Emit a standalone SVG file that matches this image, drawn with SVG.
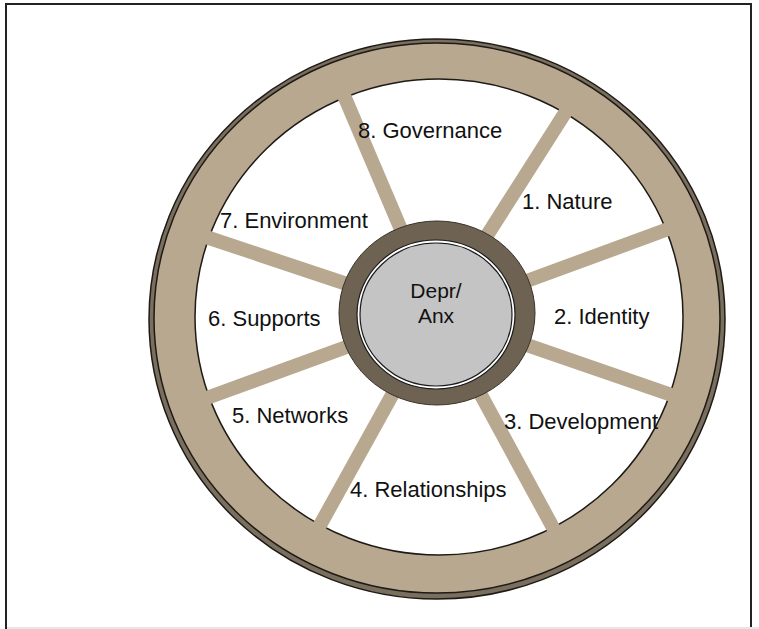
<svg xmlns="http://www.w3.org/2000/svg" width="759" height="629" viewBox="0 0 759 629">
<style>
.lbl{font-family:"Liberation Sans",Arial,sans-serif;font-size:22px;fill:#111}
.hub{font-family:"Liberation Sans",Arial,sans-serif;font-size:21px;fill:#111;text-anchor:middle}
.spoke{stroke:#b8a890;stroke-width:14;stroke-linecap:butt}
</style>
<rect x="0" y="0" width="759" height="629" fill="#fff"/>
<rect x="6" y="4" width="745" height="660" fill="none" stroke="#222" stroke-width="2"/>
<line x1="7" y1="628" x2="759" y2="628" stroke="#e6e6e6" stroke-width="2"/>
<g id="wheel">
  <ellipse cx="437" cy="319" rx="288" ry="280" fill="#7a6f5e" stroke="#1e1a15" stroke-width="1.5"/>
  <ellipse cx="437" cy="318" rx="283" ry="275" fill="#b8a890" stroke="#1e1a15" stroke-width="1.5"/>
  <ellipse cx="439" cy="317" rx="244" ry="238" fill="#fff" stroke="#1e1a15" stroke-width="1.5"/>
</g>
<g id="connectors">
  <line class="spoke" x1="437" y1="314" x2="579" y2="91"/>
  <line class="spoke" x1="437" y1="314" x2="690" y2="221"/>
  <line class="spoke" x1="437" y1="314" x2="692" y2="402"/>
  <line class="spoke" x1="437" y1="314" x2="563" y2="546"/>
  <line class="spoke" x1="437" y1="314" x2="309" y2="545"/>
  <line class="spoke" x1="437" y1="314" x2="182" y2="407"/>
  <line class="spoke" x1="437" y1="314" x2="179" y2="228"/>
  <line class="spoke" x1="437" y1="314" x2="334" y2="72"/>
</g>
<g id="hub">
  <ellipse cx="437" cy="313" rx="98" ry="92" fill="#6e6352" stroke="#3a3228" stroke-width="1"/>
  <ellipse cx="436" cy="314.5" rx="79" ry="74.5" fill="#fff" stroke="#1a1a1a" stroke-width="1.2"/>
  <ellipse cx="436" cy="314.5" rx="76" ry="71.5" fill="#c4c4c4" stroke="#1a1a1a" stroke-width="1.2"/>
  <text class="hub" x="436" y="298">Depr/</text>
  <text class="hub" x="436" y="323">Anx</text>
</g>
<g id="n8"><text class="lbl" x="358" y="138">8. Governance</text></g>
<g id="n1"><text class="lbl" x="522" y="209">1. Nature</text></g>
<g id="n7"><text class="lbl" x="220" y="228">7. Environment</text></g>
<g id="n6"><text class="lbl" x="208" y="326">6. Supports</text></g>
<g id="n2"><text class="lbl" x="554" y="324">2. Identity</text></g>
<g id="n5"><text class="lbl" x="232" y="423">5. Networks</text></g>
<g id="n3"><text class="lbl" x="504" y="429">3. Development</text></g>
<g id="n4"><text class="lbl" x="350" y="497">4. Relationships</text></g>
</svg>
